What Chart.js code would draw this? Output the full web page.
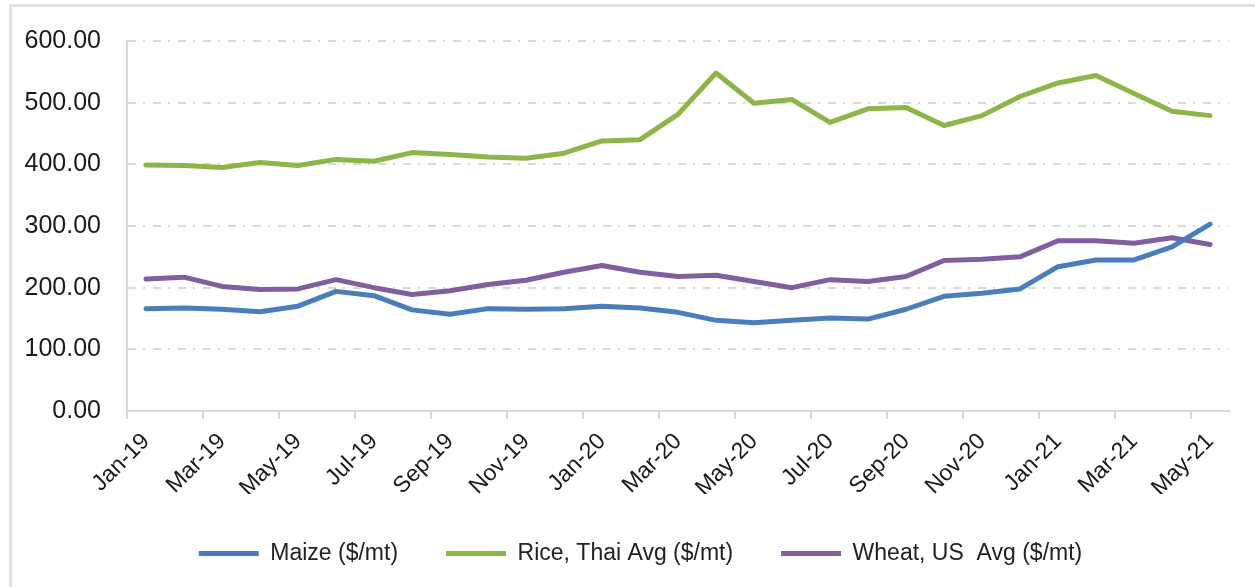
<!DOCTYPE html>
<html>
<head>
<meta charset="utf-8">
<script src="https://cdn.jsdelivr.net/npm/chart.js@4/dist/chart.umd.min.js"></script>
<style>
  html, body { margin: 0; padding: 0; background: #fff; }
  .frame { position: absolute; left: 9px; top: 4px; width: 1260px; height: 600px;
           border-top: 3px solid #e2e2e2; border-left: 3px solid #e2e2e2; }
  canvas { position: absolute; left: 0; top: 0; }
</style>
</head>
<body>
<div class="frame"></div>
<canvas id="chart" width="1255" height="587"></canvas>
<script>
// monthly prices, Jan-19 .. May-21
const months = ["Jan-19","Feb-19","Mar-19","Apr-19","May-19","Jun-19","Jul-19","Aug-19","Sep-19","Oct-19","Nov-19","Dec-19",
  "Jan-20","Feb-20","Mar-20","Apr-20","May-20","Jun-20","Jul-20","Aug-20","Sep-20","Oct-20","Nov-20","Dec-20",
  "Jan-21","Feb-21","Mar-21","Apr-21","May-21"];

const maize = [166, 167, 165, 161, 170, 194, 187, 164, 157, 166, 165, 166,
  170, 167, 160, 147, 143, 147, 151, 149, 165, 186, 191, 198,
  234, 245, 245, 266, 303];

const rice = [399, 398, 395, 403, 398, 408, 405, 419, 416, 412, 410, 418,
  438, 440, 481, 548, 499, 505, 468, 490, 492, 463, 479, 510,
  532, 544, 515, 486, 479];

const wheat = [214, 217, 202, 197, 198, 213, 200, 189, 195, 205, 212, 225,
  236, 225, 218, 220, 210, 200, 213, 210, 218, 244, 246, 250,
  276, 276, 272, 281, 270];

const yTicks = [0, 100, 200, 300, 400, 500, 600];

const FONT = "'Liberation Sans', Arial, sans-serif";
const gridGrey = "#d9d9d9";

function series(label, data, color) {
  return {
    label: label,
    data: data,
    borderColor: color,
    backgroundColor: color,
    borderWidth: 5,
    borderCapStyle: "round",
    borderJoinStyle: "round",
    pointRadius: 0,
    tension: 0,
    fill: false
  };
}

// nudge the legend a bit to the right, like the original
const legendShift = {
  id: "legendShift",
  afterLayout(chart) {
    if (chart.legend) {
      chart.legend.left += 26;
      chart.legend.right += 26;
    }
  }
};

new Chart(document.getElementById("chart"), {
  type: "line",
  data: {
    labels: months,
    datasets: [
      series("Maize ($/mt)", maize, "#4a7ebb"),
      series("Rice, Thai Avg ($/mt)", rice, "#8db648"),
      series("Wheat, US  Avg ($/mt)", wheat, "#7f5fa0")
    ]
  },
  plugins: [legendShift],
  options: {
    responsive: false,
    devicePixelRatio: 1,
    animation: false,
    layout: { padding: { top: 40, right: 26, left: 0, bottom: 12 } },
    plugins: {
      tooltip: { enabled: false },
      legend: {
        position: "bottom",
        labels: {
          usePointStyle: true,
          pointStyle: "line",
          pointStyleWidth: 60,
          padding: 48,
          color: "#222",
          font: { family: FONT, size: 23 }
        }
      }
    },
    scales: {
      x: {
        offset: true,
        afterFit: (s) => { s.height = 83; },
        grid: {
          offset: true,
          drawOnChartArea: false,
          tickLength: 8,
          lineWidth: 2,
          color: (ctx) => (ctx.index % 2 === 0 ? gridGrey : "rgba(0,0,0,0)")
        },
        border: { color: gridGrey, width: 2 },
        ticks: {
          autoSkip: false,
          minRotation: 45,
          maxRotation: 45,
          padding: 9,
          color: "#1a1a1a",
          font: { family: FONT, size: 23 },
          callback: (v, i) => (i % 2 === 0 ? months[i] : "")
        }
      },
      y: {
        min: yTicks[0],
        max: yTicks[yTicks.length - 1],
        afterFit: (s) => { s.width = 127; },
        afterBuildTicks: (s) => { s.ticks = yTicks.map(v => ({ value: v })); },
        grid: { color: gridGrey, lineWidth: 2, drawTicks: false },
        border: { color: gridGrey, width: 2, dash: [8, 7, 2, 8] },
        ticks: {
          padding: 26,
          color: "#1a1a1a",
          font: { family: FONT, size: 25 },
          callback: (v) => Number(v).toFixed(2)
        }
      }
    }
  }
});
</script>
</body>
</html>
